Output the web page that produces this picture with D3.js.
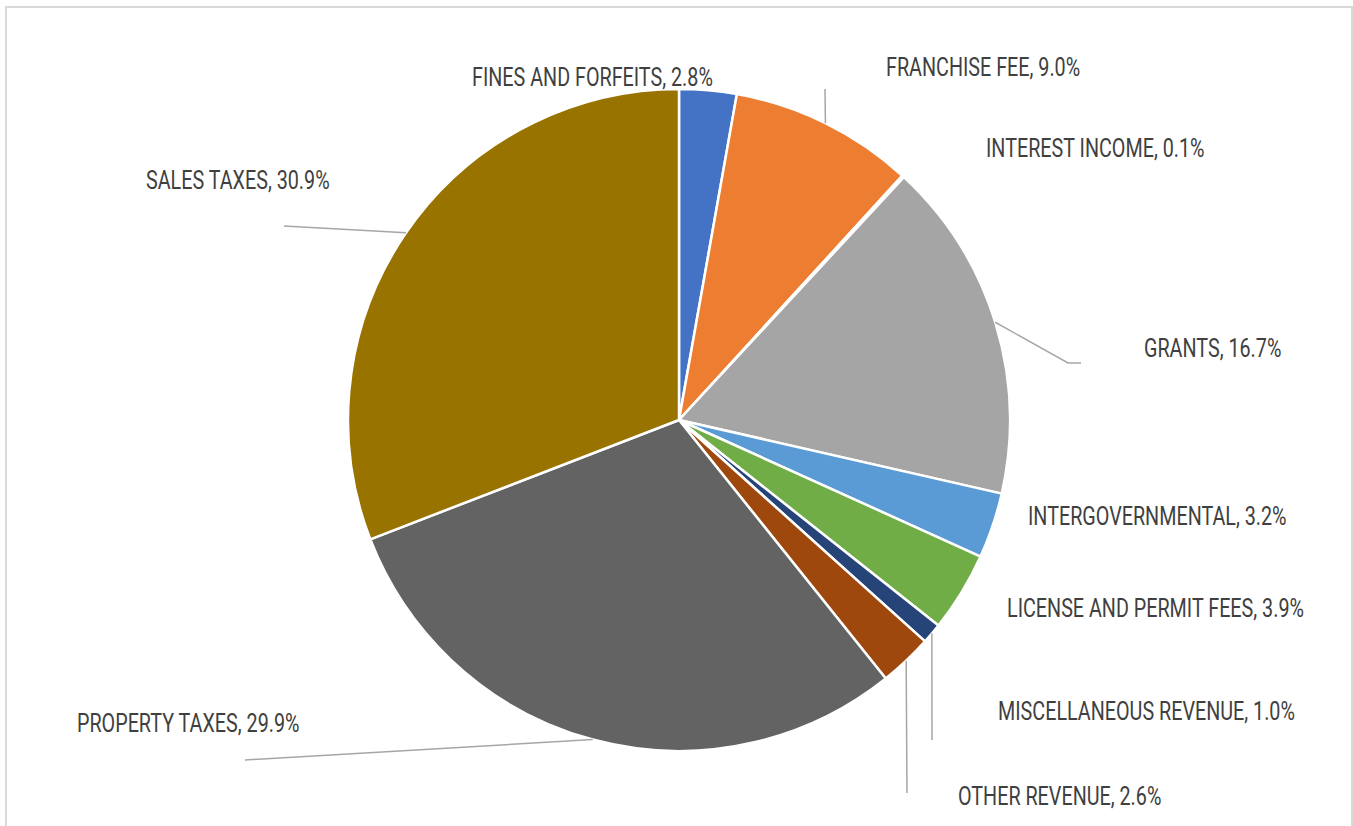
<!DOCTYPE html>
<html>
<head>
<meta charset="utf-8">
<script src="https://cdn.jsdelivr.net/npm/d3@7/dist/d3.min.js"></script>
<style>
  html, body { margin: 0; padding: 0; background: #fff; }
  svg { display: block; }
  .lbl { font-family: Roboto, "Liberation Sans", sans-serif; font-size: 25px; fill: #404040; }
</style>
</head>
<body>
<svg id="chart" width="1353" height="826"></svg>
<script>
// Revenue sources and their share of the total (%)
const categories = [
  "FINES AND FORFEITS", "FRANCHISE FEE", "INTEREST INCOME", "GRANTS",
  "INTERGOVERNMENTAL", "LICENSE AND PERMIT FEES", "MISCELLANEOUS REVENUE",
  "OTHER REVENUE", "PROPERTY TAXES", "SALES TAXES"
];
const shares = [2.8, 9.0, 0.1, 16.7, 3.2, 3.9, 1.0, 2.6, 29.9, 30.9];
const colors = [
  "#4472C4", "#ED7D31", "#FFC000", "#A5A5A5", "#5B9BD5",
  "#70AD47", "#264478", "#9E480E", "#636363", "#997300"
];

// Label placement (left x, baseline y) and leader-line end points
const labelPos = [
  [472, 86], [886, 76], [986, 157], [1144, 357], [1028, 525],
  [1007, 617], [998, 720], [958, 805], [77, 732], [146, 189]
];
const leaderEnds = [
  null, [[825, 89]], null, [[1068, 363], [1081, 363]], null,
  null, [[932, 740]], [[907, 793]], [[245, 760]], [[284, 226]]
];

const W = 1353, H = 826;
const cx = 679, cy = 420, R = 331;
const svg = d3.select("#chart");

// outer frame
svg.append("rect")
  .attr("x", 6).attr("y", 7)
  .attr("width", 1346).attr("height", 860)
  .attr("fill", "#fff")
  .attr("stroke", "#D9D9D9").attr("stroke-width", 2);

const data = categories.map((c, i) => ({ name: c, value: shares[i], color: colors[i], i }));

const pie = d3.pie().sort(null).value(d => d.value);
const arcs = pie(data);
const arc = d3.arc().innerRadius(0).outerRadius(R);

const g = svg.append("g").attr("transform", `translate(${cx},${cy})`);

g.selectAll("path.slice")
  .data(arcs)
  .join("path")
  .attr("class", "slice")
  .attr("d", arc)
  .attr("fill", d => d.data.color)
  .attr("stroke", "#fff")
  .attr("stroke-width", 2.5)
  .attr("stroke-linejoin", "round");

// leader lines from the slice edge to its label
const edgePoint = d => {
  const a = (d.startAngle + d.endAngle) / 2;
  return [cx + R * Math.sin(a), cy - R * Math.cos(a)];
};
const line = d3.line();
arcs.forEach((d, i) => {
  const ends = leaderEnds[i];
  if (!ends) return;
  const pts = [edgePoint(d), ...ends];
  svg.append("path")
    .attr("d", line(pts))
    .attr("fill", "none")
    .attr("stroke", "#A6A6A6")
    .attr("stroke-width", 1.5);
});

// data labels, set in a narrowed face
const stretch = 0.79;
const fmt = d3.format(".1f");
svg.selectAll("text.lbl")
  .data(arcs)
  .join("text")
  .attr("class", "lbl")
  .attr("transform", (d, i) => `translate(${labelPos[i][0]},${labelPos[i][1]}) scale(${stretch},1)`)
  .text(d => `${d.data.name}, ${fmt(d.data.value)}%`);
</script>
</body>
</html>
